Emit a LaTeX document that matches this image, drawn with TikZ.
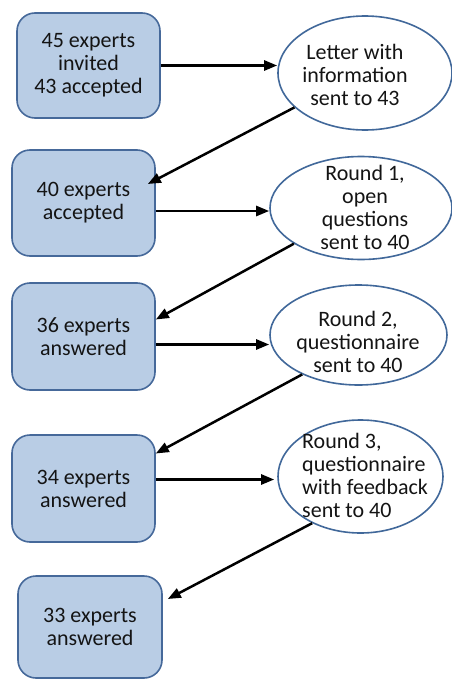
\documentclass[tikz,border=0pt]{standalone}
\usepackage{fontspec}
\setmainfont{Carlito}
\usetikzlibrary{shapes.geometric, arrows.meta, positioning, calc}
\definecolor{boxfill}{HTML}{B9CDE5}
\definecolor{boxline}{HTML}{46699A}
\definecolor{ellline}{HTML}{41689A}
\definecolor{txtcol}{HTML}{141414}
\tikzstyle{expbox} = [rectangle, rounded corners=18pt, draw=boxline, line width=1.6pt, fill=boxfill, text=txtcol, align=center, inner sep=0pt, font=\fontsize{22pt}{23pt}\selectfont]
\tikzstyle{io} = [ellipse, draw=ellline, line width=1.6pt, fill=white, inner sep=0pt]
\tikzstyle{iotext} = [text=txtcol, inner sep=0pt, font=\fontsize{22pt}{23pt}\selectfont]
\tikzstyle{arrow} = [line width=2.5pt,->,>={Triangle[length=13pt,width=10pt]}]

\begin{document}
\begin{tikzpicture}[x=1pt, y=-1pt]
\useasboundingbox (0,0) rectangle (452,680);

  % experts
  \node[expbox, minimum width=143pt, minimum height=105pt] (b1) at (88.5,65.5) {45 experts\\invited\\43 accepted};
  \node[expbox, minimum width=143pt, minimum height=106pt] (b2) at (83.5,203) {40 experts\\accepted};
  \node[expbox, minimum width=143pt, minimum height=107pt] (b3) at (83.5,336.5) {36 experts\\answered};
  \node[expbox, minimum width=143pt, minimum height=107pt] (b4) at (83.5,488.5) {34 experts\\answered};
  \node[expbox, minimum width=144pt, minimum height=102pt] (b5) at (90,627) {33 experts\\answered};

  % letters and rounds
  \node[io, minimum width=174pt, minimum height=114pt] (e1) at (365,73) {};
  \node[io, minimum width=182pt, minimum height=103pt] (e2) at (361,208) {};
  \node[io, minimum width=177pt, minimum height=100pt] (e3) at (358.5,335) {};
  \node[io, minimum width=165pt, minimum height=113pt] (e4) at (360.5,476.5) {};

  \node[iotext, align=center] (t1) at (355,75) {Letter with\\information\\sent to 43};
  \node[iotext, align=center] (t2) at (365,207) {Round 1,\\open\\questions\\sent to 40};
  \node[iotext, align=center] (t3) at (358,342) {Round 2,\\questionnaire\\sent to 40};
  \node[iotext, align=left, anchor=west] (t4) at (302,475) {Round 3,\\questionnaire\\with feedback\\sent to 40};

  % arrows
  \draw[arrow] (b1.east) -- (b1.east -| e1.west);
  \draw[arrow] (e1.206) -- ([xshift=-8pt, yshift=19pt]b2.east);
  \draw[arrow] ([yshift=-8pt]b2.east) -- ([yshift=-8pt]b2.east -| e2.west);
  \draw[arrow] (e2.208) -- ([yshift=17pt]b3.east);
  \draw[arrow] ([yshift=-8pt]b3.east) -- ([yshift=-8pt]b3.east -| e3.west);
  \draw[arrow] (e3.215) -- ([yshift=35pt]b4.east);
  \draw[arrow] ([yshift=9pt]b4.east) -- ([yshift=9pt, xshift=-3pt]b4.east -| e4.west);
  \draw[arrow] (e4.224) -- ([xshift=5pt, yshift=28pt]b5.east);

\end{tikzpicture}
\end{document}
